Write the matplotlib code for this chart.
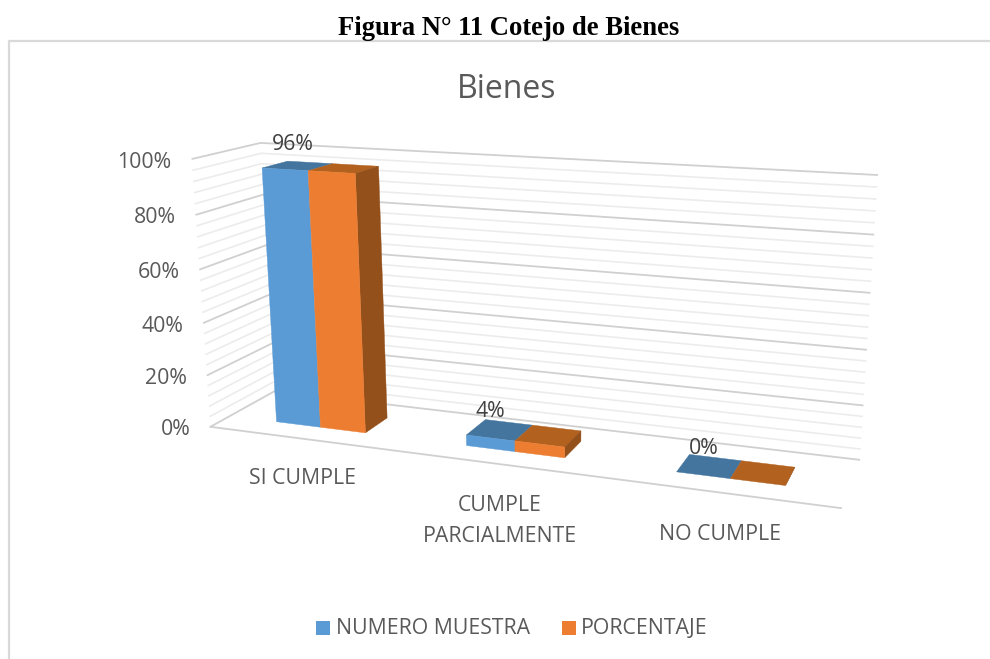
import matplotlib
matplotlib.use("Agg")
import matplotlib.pyplot as plt
import numpy as np
from matplotlib.patches import Polygon, Rectangle

categories = ["SI CUMPLE", "CUMPLE\nPARCIALMENTE", "NO CUMPLE"]
series_names = ["NUMERO MUESTRA", "PORCENTAJE"]
numero_muestra = [96, 4, 0]
porcentaje = [96, 4, 0]
value_labels = ["96%", "4%", "0%"]
major_ticks = [0, 20, 40, 60, 80, 100]
minor_ticks = [v for v in range(0, 101, 4) if v % 20 != 0]

TEXT = "#595959"
GRID = "#d0d0d0"
GRID_MINOR = "#ececec"
FONT = "Open Sans"
FS = 15.3

# camera fitted to the corners of the box: (category, value, depth) -> pixel
CORNERS = [
    ((0, 0, 0), (210, 427)),
    ((0, 100, 0), (192, 159)),
    ((0, 100, 1), (260, 143)),
    ((0, 0, 1), (275, 391)),
    ((3, 100, 1), (878, 175)),
    ((3, 0, 1), (860, 460)),
    ((3, 0, 0), (841, 508)),
]


def fit_camera(corners):
    rows, rhs = [], []
    for (x, v, z), (u, w) in corners:
        y = v / 100
        rows.append([x, y, z, 1, 0, 0, 0, 0, -u * x, -u * y, -u * z])
        rows.append([0, 0, 0, 0, x, y, z, 1, -w * x, -w * y, -w * z])
        rhs += [u, w]
    p = np.linalg.lstsq(np.array(rows, float), np.array(rhs, float), rcond=None)[0]
    return np.append(p, 1).reshape(3, 4)


CAMERA = fit_camera(CORNERS)


def project(x, v, z):
    h = CAMERA @ np.array([x, v / 100, z, 1.0])
    return h[0] / h[2], h[1] / h[2]


fig = plt.figure(figsize=(9.9, 6.59), dpi=100)
ax = fig.add_axes([0, 0, 1, 1])
ax.set_xlim(0, 990)
ax.set_ylim(659, 0)
ax.axis("off")


def face(points, color):
    ax.add_patch(Polygon([project(*p) for p in points], closed=True, fc=color, ec=color, lw=0.3, zorder=3))


# chart frame
ax.plot([9, 9, 990], [659, 40.5, 40.5], color="#d9d9d9", lw=1.6, zorder=1)

# gridlines on both walls
for ticks, color, lw in [(minor_ticks, GRID_MINOR, 1.2), (major_ticks, GRID, 1.3)]:
    for v in ticks:
        pts = [project(0, v, 0), project(0, v, 1), project(3, v, 1)]
        ax.plot(*zip(*pts), color=color, lw=lw, zorder=2, solid_capstyle="butt")
front = [project(0, 0, 0), project(3, 0, 0)]
ax.plot(*zip(*front), color=GRID, lw=1.3, zorder=2)

# bars
BAR_W = 0.24
Z0, Z1 = 0.29, 0.68
for i, (a, b) in enumerate(zip(numero_muestra, porcentaje)):
    x0 = i + 0.5 - BAR_W
    xm = x0 + BAR_W
    x1 = xm + BAR_W
    face([(x0, a, Z1), (xm, a, Z1), (xm, a, Z0), (x0, a, Z0)], "#44759f")
    face([(xm, b, Z1), (x1, b, Z1), (x1, b, Z0), (xm, b, Z0)], "#b2611f")
    face([(x1, 0, Z0), (x1, 0, Z1), (x1, b, Z1), (x1, b, Z0)], "#94501b")
    if a > 0:
        face([(x0, 0, Z0), (xm, 0, Z0), (xm, a, Z0), (x0, a, Z0)], "#5b9bd5")
    if b > 0:
        face([(xm, 0, Z0), (x1, 0, Z0), (x1, b, Z0), (xm, b, Z0)], "#ed7d31")

# data labels
label_shift = [(5, -17), (5, -8), (14, -6)]
for i, (v, lab) in enumerate(zip(numero_muestra, value_labels)):
    px, py = project(i + 0.5 - BAR_W, v, Z1)
    ax.text(px + label_shift[i][0], py + label_shift[i][1], lab, fontsize=FS, color="#404040",
            family=FONT, ha="center", va="center", zorder=5)

# value axis
for v in major_ticks:
    px, py = project(0, v, 0)
    ax.text(px - 20, py + 3, f"{v}%", fontsize=FS, color=TEXT, family=FONT, ha="right", va="center")

# category axis
cat_shift = [(0, 40), (-1, 57), (-1, 42)]
for i, cat in enumerate(categories):
    px, py = project(i + 0.5, 0, 0)
    ax.text(px + cat_shift[i][0], py + cat_shift[i][1], cat, fontsize=FS, color=TEXT, family=FONT,
            ha="center", va="center", linespacing=1.6)

# titles
ax.text(509, 28.5, "Figura N° 11 Cotejo de Bienes", fontsize=19.2, fontweight="bold",
        family="Liberation Serif", ha="center", va="center", color="black")
ax.text(507, 89, "Bienes", fontsize=23, color=TEXT, family=FONT, ha="center", va="center")

# legend
ax.add_patch(Rectangle((316, 621), 14, 14, fc="#5b9bd5", ec="none"))
ax.text(336, 628, series_names[0], fontsize=FS, color=TEXT, family=FONT, va="center")
ax.add_patch(Rectangle((562, 621), 14, 14, fc="#ed7d31", ec="none"))
ax.text(581, 628, series_names[1], fontsize=FS, color=TEXT, family=FONT, va="center")

fig.savefig("out.png", dpi=100)
